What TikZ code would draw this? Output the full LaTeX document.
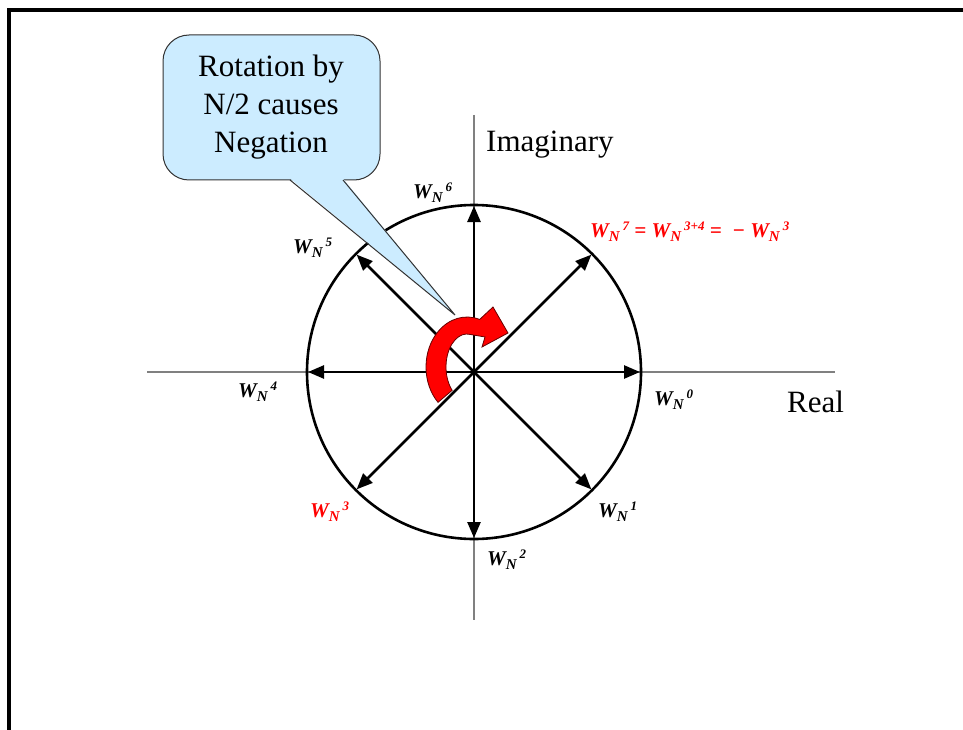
\documentclass[tikz,border=0pt]{standalone}
\usepackage{fontspec}
\setmainfont{Liberation Serif}
\usetikzlibrary{arrows.meta,calc}
\definecolor{callfill}{HTML}{CCECFF}
\newcommand\wnlab[1]{W\raisebox{-4.5pt}{\fontsize{15}{15}\selectfont N}\hspace{3pt}\raisebox{6.5pt}{\fontsize{13}{13}\selectfont #1}}
\tikzset{
  axisline/.style={draw=black!50, line width=1.3pt},
  vec/.style={line width=2.6pt, -{Triangle[length=16pt,width=13pt]}},
  wlab/.style={font=\fontsize{21}{24}\selectfont\bfseries\itshape, inner sep=0pt, anchor=base west},
  bigtxt/.style={font=\fontsize{31}{38}\selectfont, inner sep=0pt, anchor=base},
}
\begin{document}
\begin{tikzpicture}[x=1pt,y=-1pt]
\useasboundingbox (0,0) rectangle (963,730);
% frame
\draw[line width=4pt] (9,730) -- (9,10) -- (963,10);
% axes
\coordinate (O) at (474,372);
\coordinate (xl) at (147,372);
\coordinate (xr) at (835,372);
\coordinate (yt) at (474,115);
\coordinate (yb) at (474,620);
\draw[axisline] (xl) -- (xr);
\draw[axisline] (yt) -- (yb);
\node[bigtxt, anchor=base west] (imag) at (486,152) {Imaginary};
\node[bigtxt, anchor=base west] (real) at (787,412) {Real};
% circle
\draw[line width=2.6pt] (O) circle[radius=167];
% vectors
\foreach \k in {0,...,7}{
  \coordinate (p\k) at ($(O)+(\k*45:166)$);
  \draw[vec] (O) -- (p\k);
}
% labels
\node[wlab] (w0) at (654,405) {\wnlab{0}};
\node[wlab] (w1) at (598,517) {\wnlab{1}};
\node[wlab] (w2) at (487,565) {\wnlab{2}};
\node[wlab, text=red] (w3) at (310,517) {\wnlab{3}};
\node[wlab] (w4) at (238,397) {\wnlab{4}};
\node[wlab] (w5) at (293,253) {\wnlab{5}};
\node[wlab] (w6) at (413,198) {\wnlab{6}};
\node[wlab, text=red] (w7) at (590,237) {\wnlab{7} = \wnlab{3+4} = \ − \wnlab{3}};
% red rotation arrow
\begin{scope}[shift={(467,367)}, yscale=-1]
\filldraw[fill=red, draw=black!60!red, line width=0.8pt]
  (225:41 and 50) arc[start angle=225, end angle=72, x radius=41, y radius=50]
  -- (26,60) -- (41,34) -- (15,20) -- (18,30)
  -- (80:21 and 33) arc[start angle=80, end angle=225, x radius=21, y radius=33]
  -- cycle;
\end{scope}
% callout
\coordinate (tA) at (290,180);
\coordinate (tB) at (343,180);
\coordinate (tip) at (455,315);
\filldraw[fill=callfill, draw=black!80, line width=1pt, rounded corners=26pt] (163,35) rectangle (380,180);
\fill[callfill] ($(tA)+(0,-1.5)$) -- (tip) -- ($(tB)+(0,-1.5)$) -- cycle;
\draw[black!80, line width=1pt] (tA) -- (tip) -- (tB);
\node[bigtxt] (l1) at (271,77) {Rotation by};
\node[bigtxt] (l2) at (271,115) {N/2 causes};
\node[bigtxt] (l3) at (271,153) {Negation};
\end{tikzpicture}
\end{document}
